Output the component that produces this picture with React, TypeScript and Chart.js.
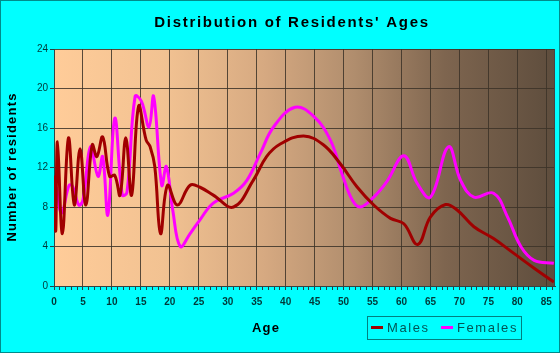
import React, { useEffect, useRef } from "react";
import { Chart, registerables } from "chart.js";

Chart.register(...registerables);

const chartTitle = "Distribution of Residents' Ages";
const xTitle = "Age";
const yTitle = "Number of residents";
const seriesNames = ["Males", "Females"];

const maleAges = [0, 0.3, 0.6, 1.45, 2.5, 3.5, 4.5, 5.5, 6.6, 7.4, 8.4, 9.6, 10.5, 11.4, 12.4, 13.4, 14.6, 15.9, 16.6, 17.4, 18.4, 19.6, 21.3, 23.5, 25.2, 27.5, 31, 34.4, 36.7, 39, 43.1, 46.5, 49.4, 52.3, 55.2, 58.1, 60.4, 62.8, 65, 67.6, 69.6, 72.5, 75.9, 79.4, 82.9, 86.3];
const maleValues = [11.2, 5.6, 14.6, 5.3, 15.0, 8.2, 13.9, 8.2, 14.3, 13.1, 15.1, 11.1, 11.2, 9.2, 15.0, 9.2, 18.2, 14.8, 14.1, 12.1, 5.3, 10.2, 8.2, 10.2, 10.0, 9.2, 8.0, 10.7, 13.1, 14.35, 15.2, 14.3, 12.4, 10.05, 8.2, 6.85, 6.3, 4.2, 7.0, 8.25, 7.7, 6.0, 4.8, 3.3, 1.8, 0.4];

const femaleAges = [0.4, 1.3, 2.6, 3.2, 4.3, 5.0, 6.3, 7.6, 8.4, 9.3, 10.5, 11.8, 12.6, 14.0, 15.1, 16.4, 17.2, 18.6, 19.4, 20.5, 21.8, 23.5, 25.2, 27.5, 31, 33.3, 35.6, 37.9, 41.6, 44.8, 47.7, 49.7, 51.5, 52.9, 55.2, 57.5, 60.4, 62.7, 65, 68.1, 70.2, 72.5, 75.9, 78.3, 80.6, 82.9, 86.3];
const femaleValues = [10, 7.4, 10.2, 10.1, 8.2, 8.7, 14.1, 11.1, 13.1, 7.2, 17.0, 9.2, 9.5, 19.2, 18.7, 16.1, 19.2, 10.2, 12.1, 7.7, 4.0, 5.3, 6.7, 8.4, 9.4, 10.7, 13.4, 16.1, 18.1, 17.2, 14.8, 11.4, 8.7, 8.0, 9.0, 10.6, 13.2, 10.4, 9.0, 14.1, 10.7, 9.0, 9.4, 7.0, 4.0, 2.6, 2.3];

const xMin = 0;
const xMax = 86.5;
const xLabelStep = 5;
const yMin = 0;
const yMax = 24;
const yStep = 4;

const MALE_COLOR = "#a00000";
const FEMALE_COLOR = "#ff00ff";
const TEXT_COLOR = "#003838";

const decorPlugin = {
  id: "decor",
  beforeDraw(chart: any) {
    const ctx = chart.ctx;
    const { width, height } = chart;
    const a = chart.chartArea;
    ctx.save();
    ctx.fillStyle = "#00ffff";
    ctx.fillRect(0, 0, width, height);
    ctx.strokeStyle = "#008b8b";
    ctx.lineWidth = 1;
    ctx.strokeRect(0.5, 0.5, width - 1, height - 1);
    const g = ctx.createLinearGradient(a.left, 0, a.right, 0);
    g.addColorStop(0, "#ffcc99");
    g.addColorStop(0.22, "#f2c292");
    g.addColorStop(0.42, "#d6a981");
    g.addColorStop(0.6, "#b08d6d");
    g.addColorStop(0.78, "#7e654f");
    g.addColorStop(1, "#5e4d3d");
    ctx.fillStyle = g;
    ctx.fillRect(a.left, a.top, a.right - a.left, a.bottom - a.top);
    ctx.restore();
  },
  afterDatasetsDraw(chart: any) {
    const ctx = chart.ctx;
    const a = chart.chartArea;
    ctx.save();
    ctx.strokeStyle = "#444444";
    ctx.lineWidth = 1;
    ctx.beginPath();
    ctx.moveTo(Math.round(a.right) - 0.5, a.top);
    ctx.lineTo(Math.round(a.right) - 0.5, a.bottom);
    ctx.stroke();
    ctx.restore();
  },
  afterDraw(chart: any) {
    const ctx = chart.ctx;
    ctx.save();
    (ctx as any).letterSpacing = "1.7px";
    ctx.fillStyle = "#000000";
    ctx.textAlign = "center";
    ctx.textBaseline = "middle";
    ctx.font = "bold 15px 'Liberation Sans', Arial, sans-serif";
    ctx.fillText(chartTitle, 292, 23);

    (ctx as any).letterSpacing = "1.2px";
    ctx.font = "bold 13px 'Liberation Sans', Arial, sans-serif";
    ctx.fillText(xTitle, 266, 328);

    ctx.save();
    ctx.translate(12, 167);
    ctx.rotate(-Math.PI / 2);
    ctx.fillText(yTitle, 0, 0);
    ctx.restore();

    // legend
    ctx.strokeStyle = "#008080";
    ctx.lineWidth = 1;
    ctx.strokeRect(367.5, 316.5, 154, 23);
    const items = [
      { name: seriesNames[0], color: MALE_COLOR, x: 371 },
      { name: seriesNames[1], color: FEMALE_COLOR, x: 441 },
    ];
    (ctx as any).letterSpacing = "1.6px";
    ctx.font = "13px 'Liberation Sans', Arial, sans-serif";
    ctx.textAlign = "left";
    for (const it of items) {
      ctx.strokeStyle = it.color;
      ctx.lineWidth = 3;
      ctx.beginPath();
      ctx.moveTo(it.x, 327.5);
      ctx.lineTo(it.x + 12, 327.5);
      ctx.stroke();
      ctx.fillStyle = "#005555";
      ctx.fillText(it.name, it.x + 16, 328.5);
    }
    ctx.restore();
  },
};

export default function App() {
  const ref = useRef<HTMLCanvasElement | null>(null);

  useEffect(() => {
    if (!ref.current) return;
    const chart = new Chart(ref.current, {
      type: "line",
      data: {
        datasets: [
          {
            label: seriesNames[0],
            data: maleAges.map((x, i) => ({ x, y: maleValues[i] })),
            borderColor: MALE_COLOR,
            borderWidth: 3,
            pointRadius: 0,
            tension: 0.4,
            fill: false,
          },
          {
            label: seriesNames[1],
            data: femaleAges.map((x, i) => ({ x, y: femaleValues[i] })),
            borderColor: FEMALE_COLOR,
            borderWidth: 3,
            pointRadius: 0,
            tension: 0.4,
            fill: false,
          },
        ],
      },
      options: {
        responsive: false,
        animation: false,
        devicePixelRatio: 1,
        layout: { padding: { left: 0, top: 49, right: 5, bottom: 0 } },
        plugins: {
          legend: { display: false },
          title: { display: false },
          tooltip: { enabled: false },
        },
        scales: {
          x: {
            type: "linear",
            min: xMin,
            max: xMax,
            afterFit: (s: any) => {
              s.height = 67;
            },
            afterBuildTicks: (s: any) => {
              const t = [];
              for (let v = 0; v <= Math.floor(xMax); v++) t.push({ value: v });
              s.ticks = t;
            },
            ticks: {
              autoSkip: false,
              maxRotation: 0,
              padding: 6,
              color: TEXT_COLOR,
              font: { family: "'Liberation Sans', Arial, sans-serif", size: 10, weight: "bold" },
              callback: (v: any) => (Number(v) % xLabelStep === 0 ? String(v) : ""),
            },
            grid: {
              color: (c: any) =>
                c.tick && c.tick.value % xLabelStep === 0 && c.tick.value !== 0
                  ? "rgba(60,50,40,0.85)"
                  : "rgba(0,0,0,0)",
              tickColor: "#224444",
              tickLength: 4,
              lineWidth: 1,
            },
            border: { color: "#334444", width: 1 },
          },
          y: {
            min: yMin,
            max: yMax,
            afterFit: (s: any) => {
              s.width = 54;
            },
            ticks: {
              stepSize: yStep,
              padding: 2,
              color: TEXT_COLOR,
              font: { family: "'Liberation Sans', Arial, sans-serif", size: 10 },
            },
            grid: {
              color: (c: any) =>
                c.tick && c.tick.value !== 0 ? "rgba(60,50,40,0.85)" : "rgba(0,0,0,0)",
              tickColor: "#224444",
              tickLength: 4,
              lineWidth: 1,
            },
            border: { color: "#334444", width: 1 },
          },
        },
      },
      plugins: [decorPlugin],
    });
    return () => chart.destroy();
  }, []);

  return (
    <div style={{ position: "absolute", left: 0, top: 0, width: 560, height: 353 }}>
      <canvas ref={ref} width={560} height={353} style={{ display: "block" }} />
    </div>
  );
}
